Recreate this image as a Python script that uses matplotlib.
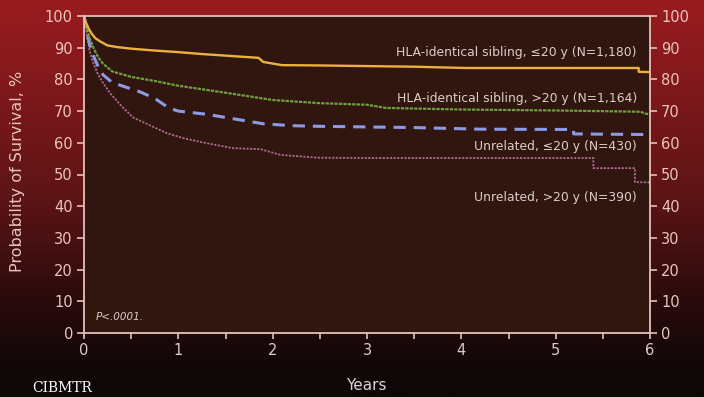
import numpy as np
import matplotlib
matplotlib.use("Agg")
import matplotlib.pyplot as plt
from matplotlib.colors import LinearSegmentedColormap

# ---- data ----
sib_young_t = [0, 0.02, 0.05, 0.08, 0.12, 0.17, 0.25, 0.35, 0.5, 0.75, 1.0, 1.25, 1.5, 1.85, 1.9, 2.1, 2.5, 3.0, 3.5, 4.05, 5.0, 5.88, 5.88, 6.0]
sib_young_s = [100, 98, 96, 94.5, 93, 92, 90.7, 90.2, 89.7, 89.1, 88.6, 88.0, 87.5, 86.8, 85.5, 84.5, 84.4, 84.2, 84.0, 83.6, 83.6, 83.6, 82.4, 82.3]

sib_old_t = [0, 0.03, 0.06, 0.1, 0.15, 0.2, 0.3, 0.5, 0.75, 1.0, 1.5, 2.0, 2.5, 3.0, 3.2, 4.0, 5.0, 5.9, 5.95, 6.0]
sib_old_s = [100, 96, 93, 90, 87, 85, 82.5, 80.8, 79.5, 78, 75.8, 73.5, 72.5, 72, 71, 70.5, 70.2, 69.8, 69.2, 69.0]

unrel_young_t = [0, 0.03, 0.06, 0.1, 0.15, 0.2, 0.3, 0.45, 0.6, 0.75, 0.9, 1.0, 1.3, 1.6, 1.9, 2.2, 2.5, 3.5, 4.2, 5.19, 5.19, 6.0]
unrel_young_s = [100, 95, 91, 87.5, 84, 81.5, 79, 77.5, 76, 74, 71, 70, 69, 67.5, 66, 65.4, 65.2, 64.8, 64.3, 64.2, 62.8, 62.6]

unrel_old_t = [0, 0.03, 0.06, 0.1, 0.15, 0.2, 0.28, 0.4, 0.52, 0.7, 0.88, 1.05, 1.23, 1.4, 1.58, 1.87, 2.08, 2.47, 3.0, 4.0, 5.4, 5.4, 5.84, 5.84, 6.0]
unrel_old_s = [100, 94, 89, 85, 81.5, 79, 75.5, 71.5, 68, 65.5, 63, 61.5, 60.3, 59.3, 58.3, 58.0, 56.2, 55.3, 55.2, 55.2, 55.2, 52.0, 52.0, 47.6, 47.5]

series_labels = ["HLA-identical sibling, \u226420 y (N=1,180)",
                 "HLA-identical sibling, >20 y (N=1,164)",
                 "Unrelated, \u226420 y (N=430)",
                 "Unrelated, >20 y (N=390)"]
label_y = [88.4, 74.1, 58.7, 42.9]

x_ticks = [0, 1, 2, 3, 4, 5, 6]
x_minor = [0.5, 1.5, 2.5, 3.5, 4.5, 5.5]
y_ticks = [0, 10, 20, 30, 40, 50, 60, 70, 80, 90, 100]

# ---- figure ----
W, H = 704, 397
fig = plt.figure(figsize=(W / 100, H / 100), dpi=100)

# background gradient
bg = fig.add_axes([0, 0, 1, 1], zorder=0)
bg.set_axis_off()
cmap = LinearSegmentedColormap.from_list(
    "bg", [(0.0, "#0d0707"), (0.1, "#140808"), (0.25, "#2c0b0d"), (0.5, "#5c1416"),
           (0.75, "#7c181b"), (1.0, "#9a1c1f")])
grad = np.linspace(0, 1, 256).reshape(-1, 1)
bg.imshow(grad, aspect="auto", cmap=cmap, origin="lower", extent=[0, 1, 0, 1])
bg.set_xlim(0, 1)
bg.set_ylim(0, 1)
bg.text(32 / W, 0.004, "CIBMTR", transform=bg.transAxes, color="white",
        fontsize=10, family="DejaVu Serif", ha="left", va="bottom")

ax = fig.add_axes([84 / W, 1 - 333 / H, (650 - 84) / W, (333 - 16) / H], zorder=1)
ax.set_facecolor("#311610")

ax.plot(unrel_old_t, unrel_old_s, color="#b06a90", lw=1.3, linestyle=(0, (1.2, 0.8)))
ax.plot(unrel_young_t, unrel_young_s, color="#8c9ae6", lw=2.2, linestyle=(0, (4, 2.6)))
ax.plot(sib_old_t, sib_old_s, color="#6fa040", lw=1.6, linestyle=(0, (1.5, 0.5)))
ax.plot(sib_young_t, sib_young_s, color="#ecb23c", lw=1.7)

txtc = "#dccdc8"
for lab, yy in zip(series_labels, label_y):
    ax.text(5.86, yy, lab, ha="right", va="center", color=txtc, fontsize=8.9)
ax.text(0.12, 5, "P<.0001.", ha="left", va="center", color=txtc, fontsize=7.5, style="italic")

ax.set_xlim(0, 6)
ax.set_ylim(0, 100)
ax.set_xticks(x_ticks)
ax.set_xticks(x_minor, minor=True)
ax.set_yticks(y_ticks)

spc = "#e6c0b8"
for s in ax.spines.values():
    s.set_color(spc)
    s.set_linewidth(1.3)

ax.tick_params(axis="x", which="both", direction="out", length=4, width=1.2, color=spc,
               labelcolor="#d8ccd0", labelsize=10.5, pad=3)
ax.tick_params(axis="y", which="both", direction="out", length=5, width=1.2, color=spc,
               labelcolor="#ecc4bc", labelsize=10.5, left=True, right=True,
               labelleft=True, labelright=True, pad=3)

fig.text(18 / W, 1 - 171 / H, "Probability of Survival, %", rotation=90, ha="center", va="center",
         color="#e8c4bc", fontsize=11.5)
fig.text(366 / W, 1 - 385 / H, "Years", ha="center", va="center", color="#dcd0d4", fontsize=11)

fig.savefig("out.png", dpi=100)
